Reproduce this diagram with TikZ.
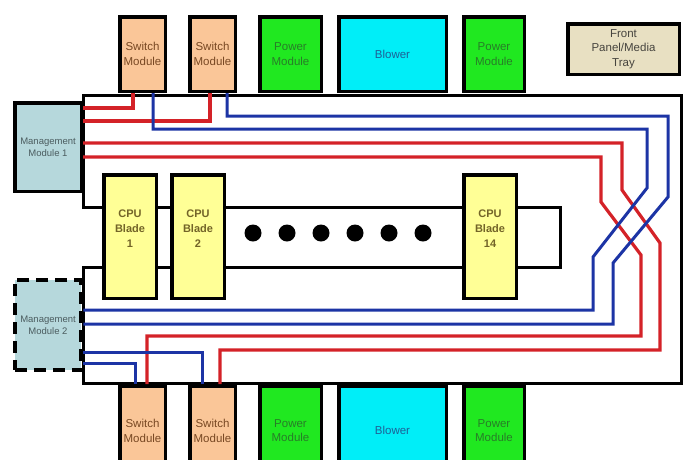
\documentclass[tikz,border=0pt]{standalone}
\usepackage{fontspec}
\setmainfont{Liberation Sans}
\usepackage{tikz}
\usetikzlibrary{arrows}

\definecolor{swfill}{RGB}{250,198,152}
\definecolor{swtext}{RGB}{120,72,35}
\definecolor{pwfill}{RGB}{32,232,32}
\definecolor{pwtext}{RGB}{40,125,40}
\definecolor{blfill}{RGB}{0,238,248}
\definecolor{bltext}{RGB}{30,95,150}
\definecolor{mmfill}{RGB}{182,216,220}
\definecolor{mmtext}{RGB}{75,92,95}
\definecolor{cpufill}{RGB}{255,255,150}
\definecolor{cputext}{RGB}{115,100,40}
\definecolor{fpfill}{RGB}{232,224,194}
\definecolor{fptext}{RGB}{70,68,62}
\definecolor{busred}{RGB}{212,34,40}
\definecolor{busblue}{RGB}{28,52,165}

\begin{document}
\begin{tikzpicture}[x=1pt, y=-1pt,
	modbox/.style={draw, line width=3.5pt, align=center, inner sep=0pt,
		font=\fontsize{11.5}{14.5}\selectfont},
	swbox/.style={modbox, fill=swfill, text=swtext, minimum width=45.5pt},
	pwbox/.style={modbox, fill=pwfill, text=pwtext},
	blbox/.style={modbox, fill=blfill, text=bltext, minimum width=107.5pt},
	mmbox/.style={modbox, fill=mmfill, text=mmtext, minimum width=66.5pt,
		font=\fontsize{9.5}{12}\selectfont},
	cpubox/.style={modbox, fill=cpufill, text=cputext, minimum width=52.5pt,
		minimum height=123.5pt, font=\bfseries\fontsize{11}{15}\selectfont},
	redbus/.style={draw=busred, line width=3.2pt},
	bluebus/.style={draw=busblue, line width=3pt}]

	\clip (0,0) rectangle (685,459);

	%chassis and midplane

	\draw[line width=3pt] (83,95) -- (681,95) -- (681,383) -- (83,383) -- (83,267)
		-- (560,267) -- (560,207) -- (83,207) -- cycle;


	%top row

	\node[swbox, minimum height=74.5pt] (swTa) at (142.5,54) {Switch\\Module};
	\node[swbox, minimum height=74.5pt] (swTb) at (212.5,54) {Switch\\Module};
	\node[pwbox, minimum width=61.5pt, minimum height=74.5pt] (pwTa) at (290.5,54) {Power\\Module};
	\node[blbox, minimum height=74.5pt] (blT) at (392.5,54) {Blower};
	\node[pwbox, minimum width=60.5pt, minimum height=74.5pt] (pwTb) at (494,54) {Power\\Module};
	\node[modbox, fill=fpfill, text=fptext, minimum width=111.5pt, minimum height=50.5pt] (fp) at (623.5,49) {Front\\Panel/Media\\Tray};


	%bottom row

	\node[swbox, minimum height=90pt] (swBa) at (142.5,430.75) {Switch\\Module};
	\node[swbox, minimum height=90pt] (swBb) at (212.5,430.75) {Switch\\Module};
	\node[pwbox, minimum width=61.5pt, minimum height=90pt] (pwBa) at (290.5,430.75) {Power\\Module};
	\node[blbox, minimum height=90pt] (blB) at (392.5,430.75) {Blower};
	\node[pwbox, minimum width=60.5pt, minimum height=90pt] (pwBb) at (494,430.75) {Power\\Module};


	%management modules

	\node[mmbox, minimum height=88.5pt] (mmA) at (48,147) {Management\\Module 1};
	\node[mmbox, minimum height=90.5pt, line width=4pt, dash pattern=on 12pt off 7pt] (mmB) at (48,325) {Management\\Module 2};


	%blades

	\node[cpubox] (cpuA) at (130,236.5) {CPU\\Blade\\1\\[1pt]~};
	\node[cpubox] (cpuB) at (198,236.5) {CPU\\Blade\\2\\[1pt]~};
	\node[cpubox] (cpuN) at (490,236.5) {CPU\\Blade\\14\\[1pt]~};
	\foreach \x in {253,287,321,355,389,423}
		\fill (\x,233) circle (8.5pt);


	%links, top switches to management module 1

	\draw[redbus] ([xshift=-9.5pt]swTa.south) |- ([yshift=39pt]mmA.east);
	\draw[redbus] ([xshift=-2.5pt]swTb.south) |- ([yshift=26pt]mmA.east);

	%links, management module 1 to bottom switches (crossed)

	\draw[redbus] ([yshift=4pt]mmA.east) -| (622,190) -- (660,243) -- (660,350) -| ([xshift=7.5pt]swBb.north);
	\draw[redbus] ([yshift=-10pt]mmA.east) -| (601,202) -- (641,255) -- (641,336) -| ([xshift=4.5pt]swBa.north);

	%links, top switches to management module 2 (crossed)

	\draw[bluebus] ([xshift=10.5pt]swTa.south) |- (647,129) -- (647,188) -- (593,257) |- ([yshift=15pt]mmB.east);
	\draw[bluebus] ([xshift=14.5pt]swTb.south) |- (668,116) -- (668,197) -- (613,263) |- ([yshift=1pt]mmB.east);

	%links, management module 2 to bottom switches

	\draw[bluebus] ([yshift=-27pt]mmB.east) -| ([xshift=-10.5pt]swBb.north);
	\draw[bluebus] ([yshift=-38pt]mmB.east) -| ([xshift=-7.5pt]swBa.north);

\end{tikzpicture}
\end{document}
